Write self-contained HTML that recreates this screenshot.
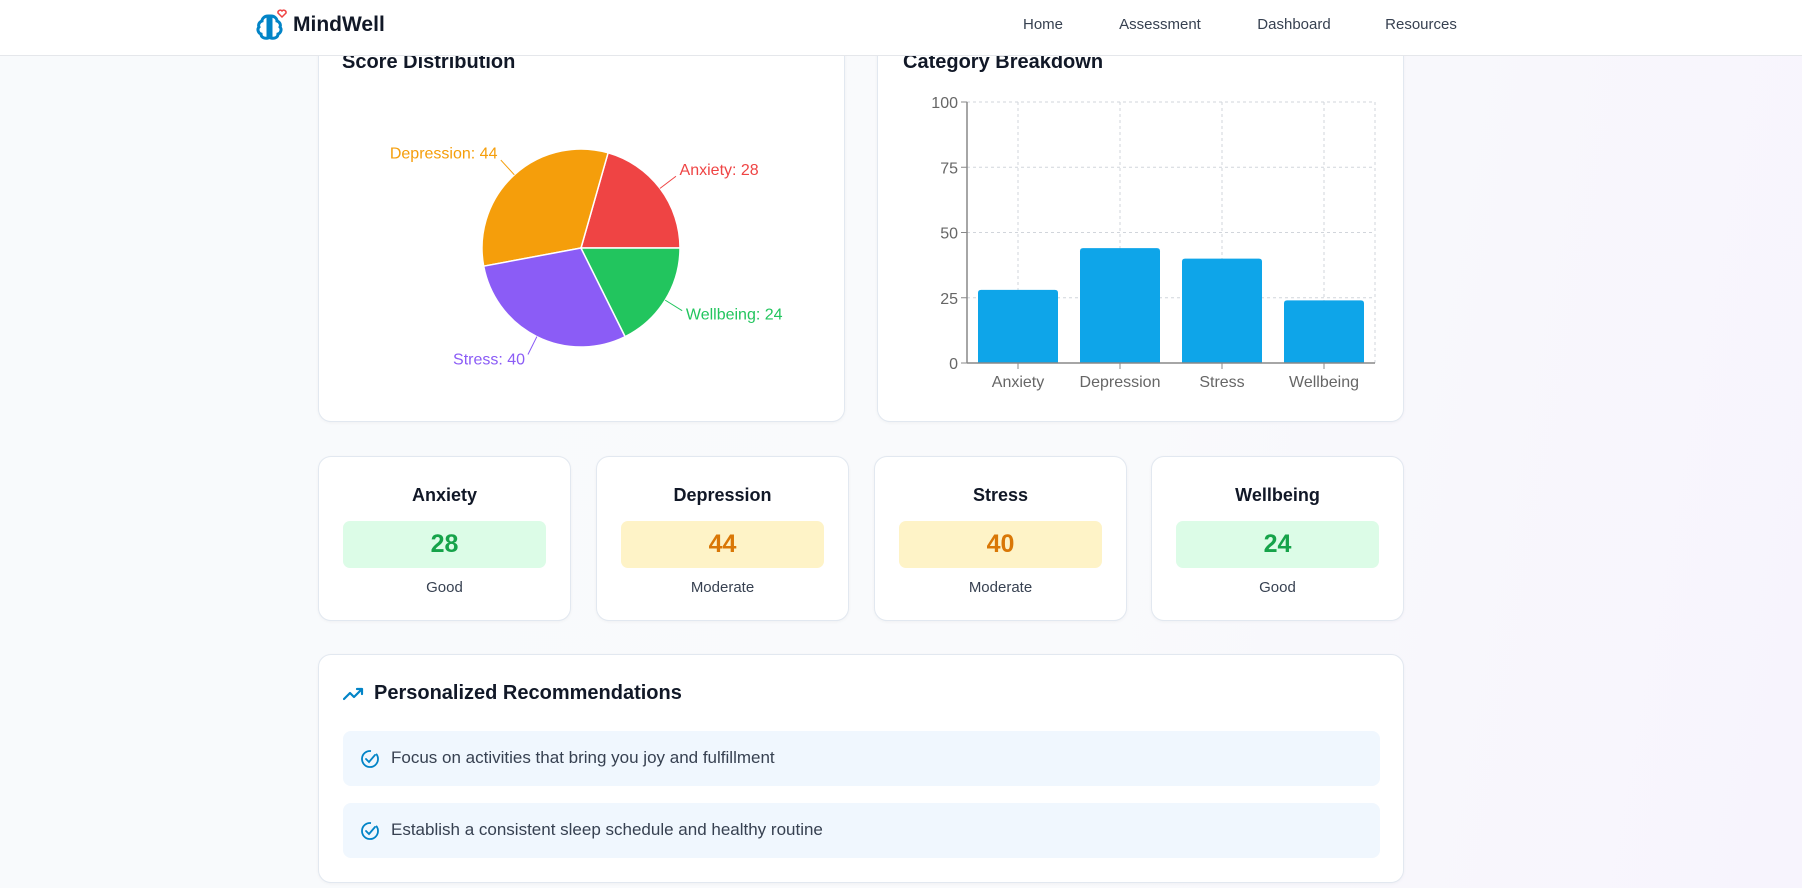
<!DOCTYPE html>
<html><head><meta charset="utf-8">
<style>
*{box-sizing:border-box;margin:0;padding:0}
body{width:1802px;height:888px;overflow:hidden;font-family:"Liberation Sans",sans-serif;background:linear-gradient(100deg,#f8fafc 0%,#f9fafc 60%,#f7f4fd 100%);position:relative;color:#111827}
.nav{position:absolute;left:0;top:0;width:1802px;height:56px;background:#fff;border-bottom:1px solid #e5e7eb;z-index:5}
.logo{position:absolute;left:253px;top:8px}
.brand{position:absolute;left:293px;top:13px;font-size:21px;font-weight:bold;color:#111827}
.navlink{position:absolute;top:16px;font-size:15px;color:#374151;transform:translateX(-50%)}
.card{position:absolute;background:#fff;border:1px solid #e2e8f0;border-radius:13px;box-shadow:0 1px 3px rgba(0,0,0,0.04)}
.ctitle{position:absolute;font-size:20px;font-weight:bold;color:#111827}
.sc-title{position:absolute;left:0;right:0;top:28px;text-align:center;font-size:18px;font-weight:bold}
.sc-box{position:absolute;left:24px;right:24px;top:64px;height:47px;border-radius:7px;text-align:center;line-height:47px;font-size:25px;font-weight:bold}
.sc-status{position:absolute;left:0;right:0;top:122px;text-align:center;font-size:15px;color:#374151}
.good{background:#dcfce7;color:#16a34a}
.mod{background:#fef3c7;color:#d97706}
.rec{position:absolute;left:24px;width:1037px;height:55px;background:#f0f7fe;border-radius:8px}
.rec span{position:absolute;left:48px;top:17px;font-size:17px;color:#374151}
.rec svg{position:absolute;left:17px;top:18px}
</style></head><body>
<div class="nav">
  <svg class="logo" width="36" height="36" viewBox="0 0 36 36">
    <path d="M15 8c-4 0-6 3-6 5-3 1-4 4-3 6-2 2-1 6 2 7 0 3 3 5 7 4z" fill="none" stroke="#0284c7" stroke-width="3"/>
    <path d="M18 8c4 0 6 3 6 5 3 1 4 4 3 6 2 2 1 6-2 7 0 3-3 5-7 4z" fill="none" stroke="#0284c7" stroke-width="3"/>
    <path d="M29 9l-4-4a2.3 2.3 0 0 1 4-2 2.3 2.3 0 0 1 4 2z" fill="#fff" stroke="#ef4444" stroke-width="1.5"/>
  </svg>
  <div class="brand">MindWell</div>
  <div class="navlink" style="left:1043px">Home</div>
  <div class="navlink" style="left:1160px">Assessment</div>
  <div class="navlink" style="left:1294px">Dashboard</div>
  <div class="navlink" style="left:1421px">Resources</div>
</div>

<div class="card" style="left:318px;top:20px;width:527px;height:402px">
  <div class="ctitle" style="left:23px;top:30px">Score Distribution</div>
</div>
<svg id="pie" style="position:absolute;left:318px;top:20px" width="527" height="402"></svg>

<div class="card" style="left:877px;top:20px;width:527px;height:402px">
  <div class="ctitle" style="left:25px;top:30px">Category Breakdown</div>
</div>
<svg id="bar" style="position:absolute;left:877px;top:20px" width="527" height="402"></svg>

<div class="card" style="left:318px;top:456px;width:253px;height:165px">
  <div class="sc-title">Anxiety</div>
  <div class="sc-box good">28</div>
  <div class="sc-status">Good</div>
</div>
<div class="card" style="left:596px;top:456px;width:253px;height:165px">
  <div class="sc-title">Depression</div>
  <div class="sc-box mod">44</div>
  <div class="sc-status">Moderate</div>
</div>
<div class="card" style="left:874px;top:456px;width:253px;height:165px">
  <div class="sc-title">Stress</div>
  <div class="sc-box mod">40</div>
  <div class="sc-status">Moderate</div>
</div>
<div class="card" style="left:1151px;top:456px;width:253px;height:165px">
  <div class="sc-title">Wellbeing</div>
  <div class="sc-box good">24</div>
  <div class="sc-status">Good</div>
</div>

<div class="card" style="left:318px;top:654px;width:1086px;height:229px">
  <svg style="position:absolute;left:24px;top:31px" width="22" height="16" viewBox="0 0 22 16"><path d="M1 13l6-6 4 4 8-8M14 3h5v5" fill="none" stroke="#0284c7" stroke-width="2.2" stroke-linecap="round" stroke-linejoin="round"/></svg>
  <div class="ctitle" style="left:55px;top:27px">Personalized Recommendations</div>
  <div class="rec" style="top:76px">
    <svg width="20" height="20" viewBox="0 0 20 20"><circle cx="10" cy="10" r="8" fill="none" stroke="#0284c7" stroke-width="1.8" stroke-dasharray="44 6" transform="rotate(-40 10 10)"/><path d="M6 10l3 3 6-7" fill="none" stroke="#0284c7" stroke-width="1.8" stroke-linecap="round"/></svg>
    <span>Focus on activities that bring you joy and fulfillment</span>
  </div>
  <div class="rec" style="top:148px">
    <svg width="20" height="20" viewBox="0 0 20 20"><circle cx="10" cy="10" r="8" fill="none" stroke="#0284c7" stroke-width="1.8" stroke-dasharray="44 6" transform="rotate(-40 10 10)"/><path d="M6 10l3 3 6-7" fill="none" stroke="#0284c7" stroke-width="1.8" stroke-linecap="round"/></svg>
    <span>Establish a consistent sleep schedule and healthy routine</span>
  </div>
</div>

<script>
const categories = ["Anxiety","Depression","Stress","Wellbeing"];
const scores = [28,44,40,24];
const pieColors = ["#ef4444","#f59e0b","#8b5cf6","#22c55e"];
const yTicks = [0,25,50,75,100];
const NS="http://www.w3.org/2000/svg";
function mk(parent,tag,attrs){const e=document.createElementNS(NS,tag);for(const k in attrs)e.setAttribute(k,attrs[k]);parent.appendChild(e);return e;}

// Pie
const pie=document.getElementById('pie');
const cx=263, cy=228, R=99;
const total=scores.reduce((a,b)=>a+b,0);
let ang=0;
scores.forEach((v,i)=>{
  const a0=ang, a1=ang+v/total*2*Math.PI; ang=a1;
  const x0=cx+R*Math.cos(a0), y0=cy-R*Math.sin(a0), x1=cx+R*Math.cos(a1), y1=cy-R*Math.sin(a1);
  const large=(a1-a0)>Math.PI?1:0;
  const p=mk(pie,'path',{d:`M${cx},${cy}L${x0},${y0}A${R},${R} 0 ${large} 0 ${x1},${y1}Z`,fill:pieColors[i],stroke:'#fff','stroke-width':1.5});
  
  
  const m=(a0+a1)/2, c=Math.cos(m), s=-Math.sin(m);
  const l=mk(pie,'path',{d:`M${cx+R*c},${cy+R*s}L${cx+(R+20)*c},${cy+(R+20)*s}`,stroke:pieColors[i],fill:'none','stroke-width':1});
  
  
  const t=mk(pie,'text',{x:cx+(R+22)*c+(c>=0?2:-2),y:cy+(R+22)*s+(s<0?0:8),fill:pieColors[i],'font-size':16,'text-anchor':c>=0?'start':'end','font-family':'Liberation Sans, sans-serif'});
  t.textContent=categories[i]+': '+v;
  
  
});

// Bar
const bar=document.getElementById('bar');
const X0=90, X1=498, Y0=343, Y1=82;
const yS=v=>Y0-(v/100)*(Y0-Y1);
const bw=(X1-X0)/categories.length;
yTicks.forEach(v=>{
  if(v>0){const g=mk(bar,'line',{x1:X0,x2:X1,y1:yS(v),y2:yS(v),stroke:'#d1d5db','stroke-dasharray':'3 3'});}
  mk(bar,'line',{x1:X0-6,x2:X0,y1:yS(v),y2:yS(v),stroke:'#888'});
  const t=mk(bar,'text',{x:X0-9,y:yS(v)+6,'text-anchor':'end','font-size':16,fill:'#666','font-family':'Liberation Sans, sans-serif'});
  t.textContent=v;
  
  
});
for(let i=0;i<=categories.length;i++){
  const x=X0+bw*(i+0.5>categories.length?categories.length:i+0.5);
  if(i<categories.length){const g=mk(bar,'line',{x1:x,x2:x,y1:Y1,y2:Y0,stroke:'#d1d5db','stroke-dasharray':'3 3'});}
}
mk(bar,'line',{x1:X1,x2:X1,y1:Y1,y2:Y0,stroke:'#d1d5db','stroke-dasharray':'3 3'});
categories.forEach((c,i)=>{
  const xc=X0+bw*(i+0.5), w=80;
  const r=mk(bar,'path',{d:`M${xc-w/2},${Y0}V${yS(scores[i])+3}q0,-3 3,-3H${xc+w/2-3}q3,0 3,3V${Y0}Z`,fill:'#0ea5e9'});
  
  
  mk(bar,'line',{x1:xc,x2:xc,y1:Y0,y2:Y0+6,stroke:'#888'});
  const t=mk(bar,'text',{x:xc,y:Y0+24,'text-anchor':'middle','font-size':16,fill:'#666','font-family':'Liberation Sans, sans-serif'});
  t.textContent=c;
  
  
});
const ax=mk(bar,'line',{x1:X0,x2:X0,y1:Y1,y2:Y0,stroke:'#888','stroke-width':1.5});


const axx=mk(bar,'line',{x1:X0,x2:X1,y1:Y0,y2:Y0,stroke:'#888','stroke-width':1.5});


</script>
</body></html>
